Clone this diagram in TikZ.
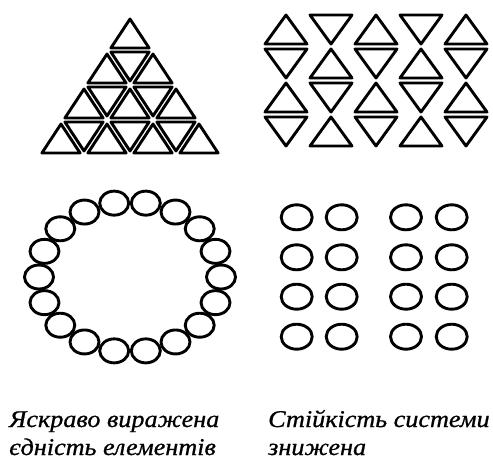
\documentclass[tikz,border=0pt]{standalone}
\usepackage{fontspec}
\setmainfont{Liberation Serif}
\newfontfamily\capfont[FakeStretch=1.09, FakeBold=0.8]{Liberation Serif}
\usepackage{tikz}
\usetikzlibrary{positioning}

\begin{document}
\begin{tikzpicture}[
    x=1pt, y=-1pt,
    shape_style/.style={line width=2.9pt, line join=round},
    bead_style/.style={line width=2.9pt},
    caption_style/.style={font=\capfont\itshape\fontsize{24}{28}\selectfont,
      anchor=base west, inner sep=0pt},
    pics/uptri/.style 2 args={code={
      \draw[shape_style] ({-#1},{#2/3}) -- (0,{-2*#2/3}) -- ({#1},{#2/3}) -- cycle;}},
    pics/dntri/.style 2 args={code={
      \draw[shape_style] ({-#1},{-#2/3}) -- (0,{2*#2/3}) -- ({#1},{-#2/3}) -- cycle;}}
]
    \useasboundingbox (0,0) rectangle (493,459);

    % --- Piramida z trykutnykiv ---
    \foreach \r in {0,...,3} {
      \foreach \k in {0,...,\r} {
        \pic at ({130+(2*\k-\r)*23}, {15+\r*35+70/3}) {uptri={19.1}{29}};
      }
    }
    \foreach \r in {1,...,3} {
      \pgfmathtruncatemacro\kmax{\r-1}
      \foreach \k in {0,...,\kmax} {
        \pic at ({130+(2*\k+1-\r)*23}, {15+\r*35+35/3}) {dntri={19.1}{29}};
      }
    }

    % --- Shakhivka z trykutnykiv ---
    \foreach \c in {0,...,4} {
      \foreach \j in {0,...,3} {
        \pgfmathtruncatemacro\odd{mod(\c+\j,2)}
        \ifnum\odd=0
          \pic at ({286+45*\c}, {15+34*\j+58/3}) {uptri={21}{29}};
        \else
          \pic at ({286+45*\c}, {15+34*\j+29/3}) {dntri={21}{29}};
        \fi
      }
    }

    % --- Kiltse z kruzhechkiv ---
    \foreach \a in {0,20,...,340}
      \draw[bead_style] ({130+91*cos(\a)}, {277-75*sin(\a)})
        ellipse [x radius=14.5, y radius=12];

    % --- Rozrizneni kruzhechky ---
    \foreach \cx in {296.7,341.7,406,451.7}
      \foreach \cy in {217.3,257.3,296.7,336.7}
        \draw[bead_style] (\cx,\cy) ellipse [x radius=15.5, y radius=12.5];

    % --- Pidpysy ---
    \node[caption_style] (unity1) at (9,427) {Яскраво виражена};
    \node[caption_style] (unity2) at (9,455) {єдність елементів};
    \node[caption_style] (stab1) at (268,427) {Стійкість системи};
    \node[caption_style] (stab2) at (268,455) {знижена};
\end{tikzpicture}
\end{document}
